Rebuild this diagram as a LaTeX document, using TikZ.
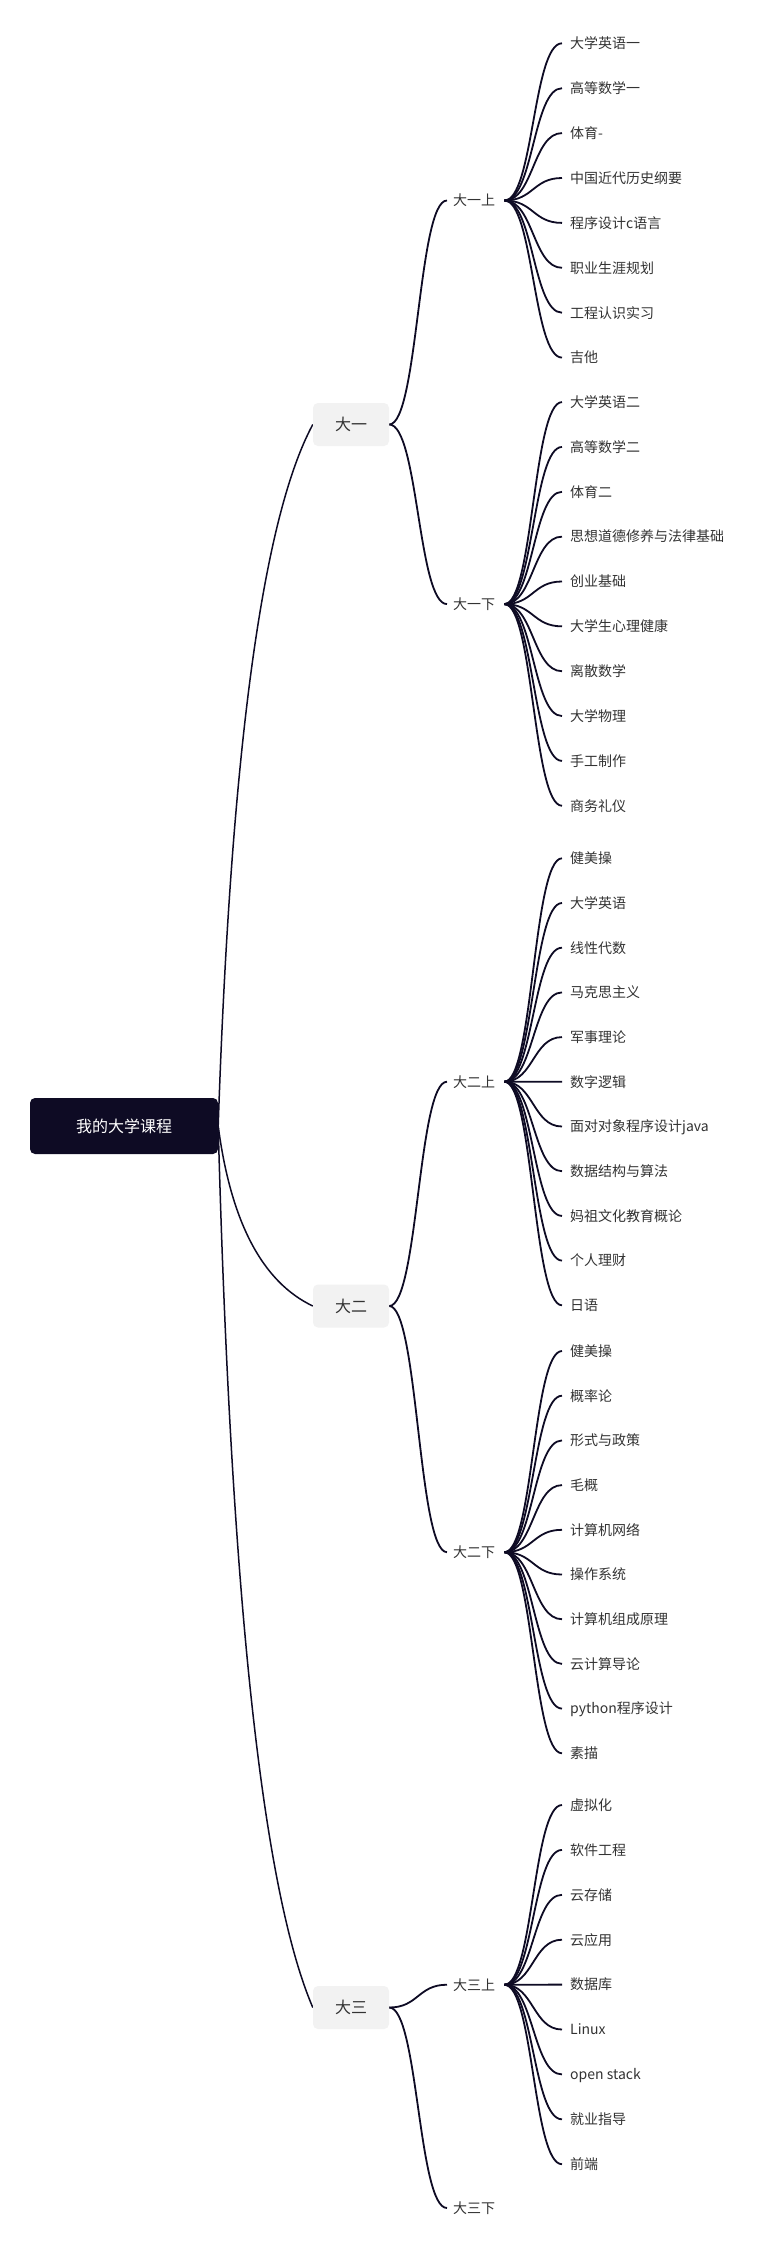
\documentclass[tikz,border=0pt]{standalone}
\usepackage{fontspec}
\setmainfont{Noto Sans CJK SC}
\usetikzlibrary{calc}
\definecolor{ink}{HTML}{0E0B24}
\definecolor{txt}{HTML}{333333}
\definecolor{boxgray}{HTML}{F2F2F2}
\pgfdeclarelayer{bottom}
\pgfdeclarelayer{bg}
\pgfsetlayers{bottom,bg,main}
\tikzset{
  rootnode/.style={fill=ink, text=white, rounded corners=5pt, minimum width=188pt, minimum height=56pt,
    inner sep=0pt, font=\fontsize{16}{18}\selectfont, text height=14.08pt, text depth=1.92pt},
  yearbox/.style={fill=boxgray, text=txt, rounded corners=5pt, minimum width=76pt, minimum height=43pt,
    inner sep=0pt, font=\fontsize{16}{18}\selectfont, text height=14.08pt, text depth=1.92pt},
  termnode/.style={anchor=west, text=txt, text width=45pt, align=left, inner xsep=6pt, inner ysep=2pt,
    font=\fontsize{14}{16}\selectfont, text height=12.32pt, text depth=1.68pt},
  leaf/.style={anchor=west, text=txt, inner xsep=8pt, inner ysep=2pt,
    font=\fontsize{14}{16}\selectfont, text height=12.32pt, text depth=1.68pt},
  rootline/.style={draw=ink, line width=1.5pt},
  link/.style={draw=ink, line width=1.8pt},
}
\newcommand\mmrootlink[1]{%
  \begin{pgfonlayer}{bg}
  \draw[rootline] let \p1=(root.east), \p2=(#1.west) in
    (\p1) .. controls ($(\p1)+({0.13333*(\x2-\x1)},{0.53333*(\y2-\y1)})$)
          and ($(\p2)+({-0.53333*(\x2-\x1)},{-0.13333*(\y2-\y1)})$) .. (\p2);
  \end{pgfonlayer}}
\newcommand\mmlink[2]{%
  \begin{pgfonlayer}{bg}
  \draw[link] (#1.east) .. controls +(29pt,0) and +(-29pt,0) .. (#2.west);
  \end{pgfonlayer}}
\newcommand\mmleaves[4]{%
  \foreach \t [count=\i from 0] in {#4} {
    \node[leaf] (#1-\i) at (562, {#2+#3*\i}) {\t};
    \mmlink{#1}{#1-\i}
  }}
\begin{document}
\begin{tikzpicture}[x=1pt, y=-1pt]
\begin{pgfonlayer}{bottom}
\fill[white] (0,0) rectangle (762,2254);
\end{pgfonlayer}
\useasboundingbox (0,0) rectangle (762,2254);

% root
\node[rootnode] (root) at (124,1126) {我的大学课程};

% years
\node[yearbox] (y1) at (351,424.5) {大一};
\node[yearbox] (y2) at (351,1306) {大二};
\node[yearbox] (y3) at (351,2007.5) {大三};
\mmrootlink{y1}
\mmrootlink{y2}
\mmrootlink{y3}

% terms
\node[termnode] (t1a) at (447,200.5) {大一上};
\node[termnode] (t1b) at (447,604.1) {大一下};
\node[termnode] (t2a) at (447,1081.7) {大二上};
\node[termnode] (t2b) at (447,1552.2) {大二下};
\node[termnode] (t3a) at (447,1984.7) {大三上};
\node[termnode] (t3b) at (447,2208) {大三下};
\mmlink{y1}{t1a}
\mmlink{y1}{t1b}
\mmlink{y2}{t2a}
\mmlink{y2}{t2b}
\mmlink{y3}{t3a}
\mmlink{y3}{t3b}

% courses
\mmleaves{t1a}{43.3}{44.9}{大学英语一,高等数学一,体育-,中国近代历史纲要,程序设计c语言,职业生涯规划,工程认识实习,吉他}
\mmleaves{t1b}{402.1}{44.85}{大学英语二,高等数学二,体育二,思想道德修养与法律基础,创业基础,大学生心理健康,离散数学,大学物理,手工制作,商务礼仪}
\mmleaves{t2a}{858.3}{44.7}{健美操,大学英语,线性代数,马克思主义,军事理论,数字逻辑,面对对象程序设计java,数据结构与算法,妈祖文化教育概论,个人理财,日语}
\mmleaves{t2b}{1351}{44.7}{健美操,概率论,形式与政策,毛概,计算机网络,操作系统,计算机组成原理,云计算导论,python程序设计,素描}
\mmleaves{t3a}{1805}{44.9}{虚拟化,软件工程,云存储,云应用,数据库,Linux,open stack,就业指导,前端}
\end{tikzpicture}
\end{document}
